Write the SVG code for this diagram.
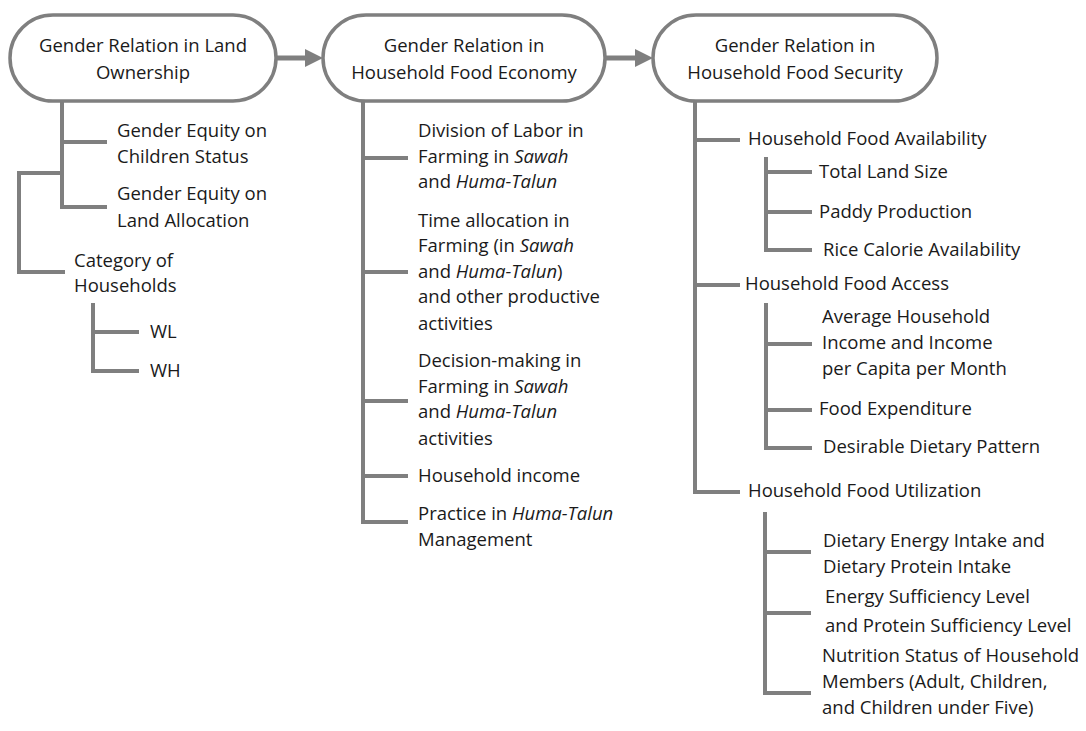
<svg xmlns="http://www.w3.org/2000/svg" width="1086" height="731" viewBox="0 0 1086 731">
<style>
.pill{fill:#fff;stroke:#7f7f7f;stroke-width:3.5}
.ln{fill:none;stroke:#7f7f7f;stroke-width:4;stroke-linejoin:miter}
.ar{fill:none;stroke:#7f7f7f;stroke-width:5}
.t{font-family:"Open Sans","Liberation Sans",sans-serif;font-size:18.5px;fill:#1a1a1a}
.c{text-anchor:middle}
.i{font-style:italic}
</style>
<rect width="1086" height="731" fill="#fff"/>
<g id="connectors">
<line class="ar" x1="277" y1="58" x2="308" y2="58"/>
<polygon points="305,49 323,58 305,67" fill="#7f7f7f"/>
<line class="ar" x1="606" y1="58" x2="638" y2="58"/>
<polygon points="635,49 653,58 635,67" fill="#7f7f7f"/>
<polyline class="ln" points="62,102 62,207 107,207"/>
<line class="ln" x1="62" y1="142" x2="107" y2="142"/>
<polyline class="ln" points="62,173 19,173 19,272 65,272"/>
<polyline class="ln" points="93,303 93,371 139,371"/>
<line class="ln" x1="93" y1="332" x2="139" y2="332"/>
<polyline class="ln" points="363,102 363,522 408,522"/>
<line class="ln" x1="363" y1="158" x2="408" y2="158"/>
<line class="ln" x1="363" y1="272" x2="408" y2="272"/>
<line class="ln" x1="363" y1="401" x2="408" y2="401"/>
<line class="ln" x1="363" y1="476" x2="408" y2="476"/>
<polyline class="ln" points="695,102 695,492 740,492"/>
<line class="ln" x1="695" y1="140" x2="740" y2="140"/>
<line class="ln" x1="695" y1="285" x2="740" y2="285"/>
<polyline class="ln" points="766,157 766,250 812,250"/>
<line class="ln" x1="766" y1="172" x2="812" y2="172"/>
<line class="ln" x1="766" y1="212" x2="812" y2="212"/>
<polyline class="ln" points="766,303 766,448 812,448"/>
<line class="ln" x1="766" y1="344" x2="812" y2="344"/>
<line class="ln" x1="766" y1="410" x2="812" y2="410"/>
<polyline class="ln" points="765,512 765,693 811,693"/>
<line class="ln" x1="765" y1="552" x2="811" y2="552"/>
<line class="ln" x1="765" y1="613" x2="811" y2="613"/>
</g>
<g id="n1">
<rect class="pill" x="10" y="15" width="266" height="86" rx="43" ry="43"/>
<text class="t c" x="143" y="52">Gender Relation in Land</text>
<text class="t c" x="143" y="79">Ownership</text>
</g>
<g id="n2">
<rect class="pill" x="323" y="15" width="282" height="86" rx="43" ry="43"/>
<text class="t c" x="464" y="52">Gender Relation in</text>
<text class="t c" x="464" y="79">Household Food Economy</text>
</g>
<g id="n3">
<rect class="pill" x="653" y="15" width="284" height="86" rx="43" ry="43"/>
<text class="t c" x="795" y="52">Gender Relation in</text>
<text class="t c" x="795" y="79">Household Food Security</text>
</g>
<g id="n1-children">
<text class="t" x="117" y="137">Gender Equity on</text>
<text class="t" x="117" y="163">Children Status</text>
<text class="t" x="117" y="200">Gender Equity on</text>
<text class="t" x="117" y="227">Land Allocation</text>
<text class="t" x="74" y="267">Category of</text>
<text class="t" x="74" y="292">Households</text>
<text class="t" x="150" y="338">WL</text>
<text class="t" x="150" y="377">WH</text>
</g>
<g id="n2-children">
<text class="t" x="418" y="137">Division of Labor in</text>
<text class="t" x="418" y="163">Farming in <tspan class="i">Sawah</tspan></text>
<text class="t" x="418" y="188">and <tspan class="i">Huma-Talun</tspan></text>
<text class="t" x="418" y="227">Time allocation in</text>
<text class="t" x="418" y="252">Farming (in <tspan class="i">Sawah</tspan></text>
<text class="t" x="418" y="278">and <tspan class="i">Huma-Talun</tspan>)</text>
<text class="t" x="418" y="303">and other productive</text>
<text class="t" x="418" y="330">activities</text>
<text class="t" x="418" y="367">Decision-making in</text>
<text class="t" x="418" y="393">Farming in <tspan class="i">Sawah</tspan></text>
<text class="t" x="418" y="418">and <tspan class="i">Huma-Talun</tspan></text>
<text class="t" x="418" y="445">activities</text>
<text class="t" x="418" y="482">Household income</text>
<text class="t" x="418" y="520">Practice in <tspan class="i">Huma-Talun</tspan></text>
<text class="t" x="418" y="546">Management</text>
</g>
<g id="n3-children">
<text class="t" x="748" y="145">Household Food Availability</text>
<text class="t" x="819" y="178">Total Land Size</text>
<text class="t" x="819" y="218">Paddy Production</text>
<text class="t" x="823" y="256">Rice Calorie Availability</text>
<text class="t" x="745" y="290">Household Food Access</text>
<text class="t" x="822" y="323">Average Household</text>
<text class="t" x="822" y="349">Income and Income</text>
<text class="t" x="822" y="375">per Capita per Month</text>
<text class="t" x="819" y="415">Food Expenditure</text>
<text class="t" x="823" y="453">Desirable Dietary Pattern</text>
<text class="t" x="748" y="497">Household Food Utilization</text>
<text class="t" x="823" y="547">Dietary Energy Intake and</text>
<text class="t" x="823" y="573">Dietary Protein Intake</text>
<text class="t" x="825" y="603">Energy Sufficiency Level</text>
<text class="t" x="825" y="632">and Protein Sufficiency Level</text>
<text class="t" x="822" y="662">Nutrition Status of Household</text>
<text class="t" x="822" y="688">Members (Adult, Children,</text>
<text class="t" x="822" y="714">and Children under Five)</text>
</g>
</svg>
